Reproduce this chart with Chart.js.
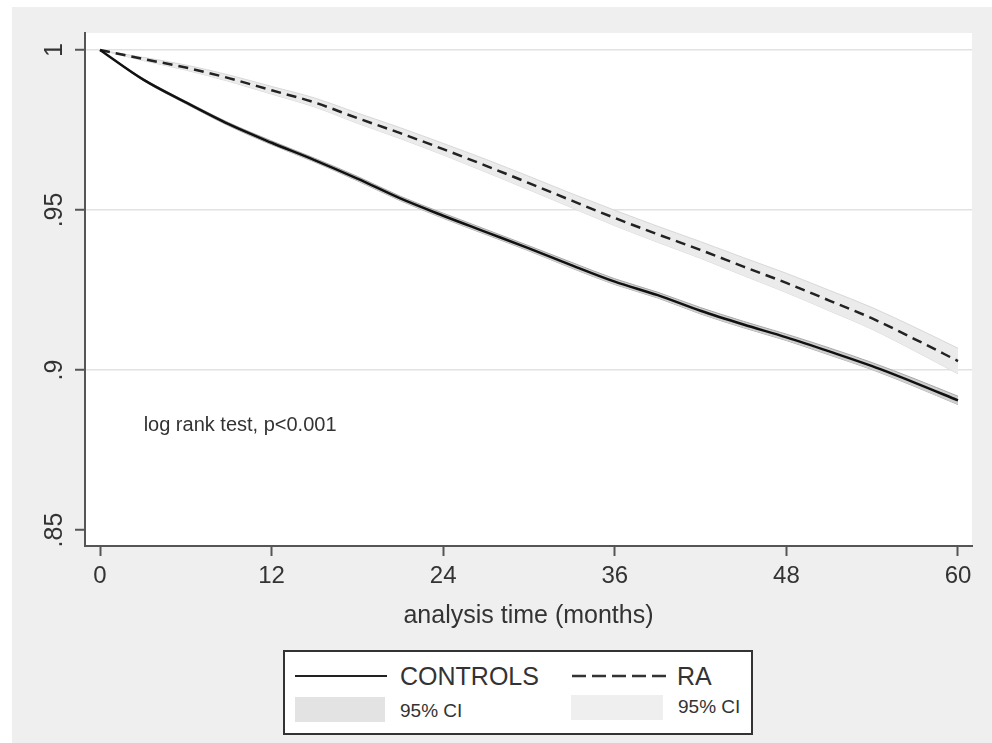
<!DOCTYPE html>
<html>
<head>
<meta charset="utf-8">
<title>Survival curves: controls vs RA</title>
<script src="https://cdn.jsdelivr.net/npm/chart.js@4.4.1/dist/chart.umd.min.js"></script>
<style>
  body { margin: 0; background: #fff; font-family: "Liberation Sans", Arial, sans-serif; }
  #panel { position: absolute; left: 12px; top: 7px; width: 980px; height: 736px; background: #efefef; }
  #chartBox { position: absolute; left: 0; top: 0; width: 992px; height: 640px; }
  #legend { position: absolute; left: 283px; top: 650px; width: 466px; height: 81px;
            border: 2px solid #333; background: #fff; color: #333; }
  #legend div, #legend svg { position: absolute; }
  .big { font-size: 25px; line-height: 26px; }
  .small { font-size: 19px; line-height: 22px; }
</style>
</head>
<body>
<div id="panel"></div>
<div id="chartBox"><canvas id="kmChart"></canvas></div>
<div id="legend">
  <div style="left:10px; top:23px; width:92px; border-top:2px solid #222;"></div>
  <div class="big" style="left:115px; top:11px;">CONTROLS</div>
  <svg style="left:287px; top:19px;" width="94" height="10"><line x1="0" y1="5" x2="94" y2="5" stroke="#333" stroke-width="2.5" stroke-dasharray="14 6"/></svg>
  <div class="big" style="left:392px; top:11px;">RA</div>
  <div style="left:10px; top:45px; width:90px; height:25px; background:#e3e3e3;"></div>
  <div class="small" style="left:115px; top:48px;">95% CI</div>
  <div style="left:286px; top:43px; width:92px; height:25px; background:#efefef;"></div>
  <div class="small" style="left:393px; top:44px;">95% CI</div>
</div>
<script>
// ---------------- Data ----------------
const months = [0, 3, 6, 9, 12, 15, 18, 21, 24, 27, 30, 33, 36, 39, 42, 45, 48, 51, 54, 57, 60];

const controlsSurv  = [1, 0.9908, 0.9836, 0.9768, 0.9710, 0.9656, 0.9598, 0.9536, 0.9482, 0.9431, 0.9380,
                       0.9327, 0.9276, 0.9234, 0.9185, 0.9142, 0.9102, 0.9058, 0.9012, 0.8960, 0.8905];
const controlsUpper = [1, 0.9911, 0.9840, 0.9773, 0.9716, 0.9662, 0.9605, 0.9543, 0.9490, 0.9439, 0.9388,
                       0.9336, 0.9285, 0.9243, 0.9195, 0.9152, 0.9112, 0.9069, 0.9023, 0.8972, 0.8918];
const controlsLower = [1, 0.9905, 0.9832, 0.9763, 0.9704, 0.9650, 0.9591, 0.9529, 0.9474, 0.9423, 0.9372,
                       0.9318, 0.9267, 0.9225, 0.9175, 0.9132, 0.9092, 0.9047, 0.9001, 0.8948, 0.8892];

const raSurv  = [1, 0.9972, 0.9945, 0.9912, 0.9874, 0.9836, 0.9787, 0.9740, 0.9690, 0.9638, 0.9584,
                 0.9529, 0.9475, 0.9424, 0.9375, 0.9323, 0.9272, 0.9217, 0.9161, 0.9096, 0.9028];
const raUpper = [1, 0.9977, 0.9953, 0.9922, 0.9886, 0.9850, 0.9803, 0.9757, 0.9708, 0.9658, 0.9605,
                 0.9551, 0.9499, 0.9449, 0.9401, 0.9351, 0.9302, 0.9249, 0.9195, 0.9133, 0.9068];
const raLower = [1, 0.9967, 0.9937, 0.9902, 0.9862, 0.9822, 0.9771, 0.9723, 0.9672, 0.9618, 0.9563,
                 0.9507, 0.9451, 0.9399, 0.9349, 0.9295, 0.9242, 0.9185, 0.9127, 0.9059, 0.8988];

const xTickValues = [0, 12, 24, 36, 48, 60];
const yTickValues = [0.85, 0.9, 0.95, 1];
const yTickLabels = [".85", ".9", ".95", "1"];
const noteText = "log rank test, p<0.001";

// ---------------- Helpers ----------------
function toPoints(values) {
  return months.map((m, i) => ({ x: m, y: values[i] }));
}

// white plot region on the grey panel
const plotBackground = {
  id: "plotBackground",
  beforeDraw(chart) {
    const a = chart.chartArea;
    const ctx = chart.ctx;
    ctx.save();
    ctx.fillStyle = "#fff";
    ctx.fillRect(a.left, a.top, a.right - a.left, a.bottom - a.top);
    ctx.restore();
  },
};

// "log rank test" note inside the plot
const logRankNote = {
  id: "logRankNote",
  afterDatasetsDraw(chart) {
    const { ctx, scales } = chart;
    ctx.save();
    ctx.font = '20px "Liberation Sans", Arial, sans-serif';
    ctx.fillStyle = "#333";
    ctx.textBaseline = "middle";
    ctx.fillText(noteText, scales.x.getPixelForValue(3.05), scales.y.getPixelForValue(0.8828));
    ctx.restore();
  },
};

// ---------------- Chart ----------------
const ctx = document.getElementById("kmChart").getContext("2d");

new Chart(ctx, {
  type: "line",
  data: {
    datasets: [
      {
        label: "CONTROLS",
        data: toPoints(controlsSurv),
        borderColor: "#111",
        borderWidth: 2.5,
        pointRadius: 0,
        fill: false,
        cubicInterpolationMode: "monotone",
      },
      {
        label: "RA",
        data: toPoints(raSurv),
        borderColor: "#222",
        borderWidth: 2.5,
        borderDash: [10, 6],
        pointRadius: 0,
        fill: false,
        cubicInterpolationMode: "monotone",
      },
      {
        label: "CONTROLS 95% CI upper",
        data: toPoints(controlsUpper),
        borderColor: "#a8a8a8",
        borderWidth: 1,
        backgroundColor: "#cfcfcf",
        pointRadius: 0,
        fill: "+1",
        cubicInterpolationMode: "monotone",
      },
      {
        label: "CONTROLS 95% CI lower",
        data: toPoints(controlsLower),
        borderColor: "#a8a8a8",
        borderWidth: 1,
        pointRadius: 0,
        fill: false,
        cubicInterpolationMode: "monotone",
      },
      {
        label: "RA 95% CI upper",
        data: toPoints(raUpper),
        borderColor: "#d8d8d8",
        borderWidth: 1,
        backgroundColor: "#ebebeb",
        pointRadius: 0,
        fill: "+1",
        cubicInterpolationMode: "monotone",
      },
      {
        label: "RA 95% CI lower",
        data: toPoints(raLower),
        borderColor: "#d8d8d8",
        borderWidth: 1,
        pointRadius: 0,
        fill: false,
        cubicInterpolationMode: "monotone",
      },
    ],
  },
  options: {
    responsive: true,
    maintainAspectRatio: false,
    animation: false,
    layout: { padding: { top: 33, right: 20, left: 0, bottom: 0 } },
    plugins: {
      legend: { display: false },
      tooltip: { enabled: false },
    },
    scales: {
      x: {
        type: "linear",
        min: -1.05,
        max: 60.98,
        afterBuildTicks: (s) => { s.ticks = xTickValues.map((v) => ({ value: v })); },
        afterFit: (s) => { s.height = 94; },
        grid: { drawOnChartArea: false, tickLength: 10, tickColor: "#555", tickWidth: 2 },
        border: { color: "#555", width: 2 },
        ticks: {
          color: "#333",
          font: { family: '"Liberation Sans", Arial, sans-serif', size: 24 },
          padding: 6,
          maxRotation: 0,
          autoSkip: false,
        },
        title: {
          display: true,
          text: "analysis time (months)",
          color: "#333",
          font: { family: '"Liberation Sans", Arial, sans-serif', size: 25 },
          padding: { top: 0, bottom: 9 },
        },
      },
      y: {
        type: "linear",
        min: 0.845,
        max: 1.0053,
        afterBuildTicks: (s) => { s.ticks = yTickValues.map((v) => ({ value: v })); },
        afterFit: (s) => { s.width = 85; },
        grid: {
          color: (c) => (c.tick && c.tick.value === 0.85 ? "rgba(0,0,0,0)" : "#e2e2e2"),
          lineWidth: 1.5,
          tickLength: 10,
          tickColor: "#555",
          tickWidth: 2,
        },
        border: { color: "#555", width: 2 },
        ticks: {
          color: "#333",
          font: { family: '"Liberation Sans", Arial, sans-serif', size: 25 },
          callback: (v) => yTickLabels[yTickValues.indexOf(v)],
          minRotation: 90,
          maxRotation: 90,
          crossAlign: "center",
          padding: 3,
        },
      },
    },
  },
  plugins: [plotBackground, logRankNote],
});
</script>
</body>
</html>
